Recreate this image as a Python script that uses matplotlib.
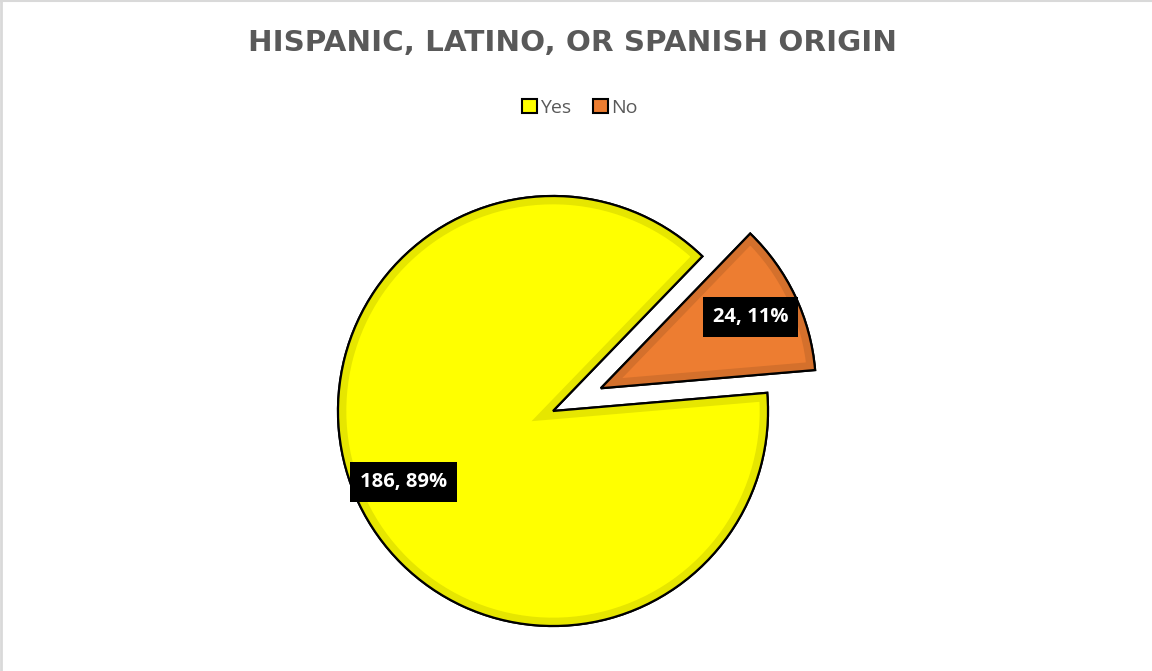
import matplotlib.pyplot as plt
from matplotlib.lines import Line2D
from matplotlib.patches import Wedge

categories = ['Yes', 'No']
counts = [186, 24]
colors = ['#FFFF00', '#ED7D31']
bevel_colors = ['#E6E600', '#D4702C']
title = 'HISPANIC, LATINO, OR SPANISH ORIGIN'

W, H = 1152, 671
fig = plt.figure(figsize=(W / 100, H / 100), dpi=100)
ax = fig.add_axes([0, 0, 1, 1])

total = sum(counts)


def fmt(pct):
    return f'{round(pct * total / 100):d}, {pct:.0f}%'


wedges, texts, autotexts = ax.pie(
    counts, colors=colors, startangle=46, counterclock=True,
    explode=[0, 53], center=(553, H - 411), radius=215,
    autopct=fmt, pctdistance=0.77,
    wedgeprops=dict(edgecolor='black', linewidth=1.6),
    textprops=dict(color='white', fontsize=14.5, fontweight='bold',
                   family='Open Sans'))

# inner bevel band: thick stroke clipped to the wedge itself
for w, bc in zip(wedges, bevel_colors):
    band = Wedge(w.center, w.r, w.theta1, w.theta2, facecolor='none',
                 edgecolor=bc, linewidth=12, zorder=w.get_zorder() + 0.1)
    ax.add_patch(band)
    band.set_clip_path(w)
    edge = Wedge(w.center, w.r, w.theta1, w.theta2, facecolor='none',
                 edgecolor='black', linewidth=1.6, zorder=w.get_zorder() + 0.2)
    ax.add_patch(edge)

for t in autotexts:
    t.set_bbox(dict(boxstyle='square,pad=0.5', facecolor='black', edgecolor='none'))
    t.set_zorder(5)

ax.set_xlim(0, W)
ax.set_ylim(0, H)
ax.set_axis_off()

fig.text(573 / W, 1 - 43 / H, title, ha='center', va='center',
         fontsize=21.2, fontweight='bold', color='#595959', family='DejaVu Sans')

handles = [plt.Rectangle((0, 0), 1, 1, facecolor=c, edgecolor='black', linewidth=1.5)
           for c in colors]
leg = fig.legend(handles, categories, loc='center', bbox_to_anchor=(580 / W, 1 - 108 / H),
                 ncol=2, frameon=False, handlelength=0.75, handleheight=0.75,
                 handletextpad=0.2, columnspacing=1.1, prop=dict(family='Open Sans', size=14))
for t in leg.get_texts():
    t.set_color('#595959')

# thin grey frame on the left and top
fig.add_artist(Line2D([0.001, 0.001], [0, 1], transform=fig.transFigure, color='#D9D9D9', lw=2))
fig.add_artist(Line2D([0, 1], [0.999, 0.999], transform=fig.transFigure, color='#D9D9D9', lw=1.5))

fig.savefig('out.png', dpi=100)
